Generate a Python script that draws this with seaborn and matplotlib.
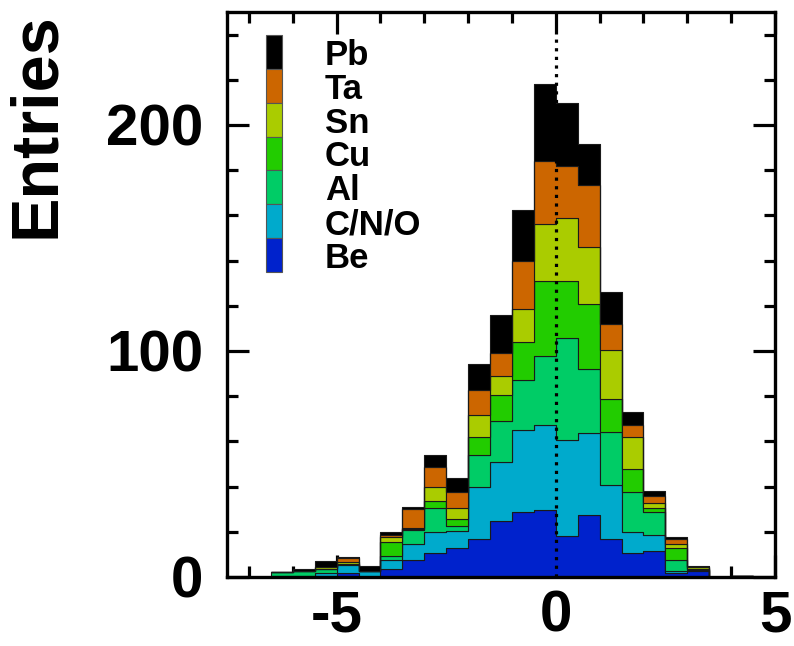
import numpy as np
import pandas as pd
import matplotlib
matplotlib.use("Agg")
import matplotlib.pyplot as plt
from matplotlib.patches import Rectangle
from matplotlib.ticker import MultipleLocator
import seaborn as sns

# ---- data ----
bin_edges = [round(v, 2) for v in np.arange(-6.5, 4.51, 0.5)]
bin_centers = [(a + b) / 2 for a, b in zip(bin_edges[:-1], bin_edges[1:])]

materials = ["Pb", "Ta", "Sn", "Cu", "Al", "C/N/O", "Be"]   # top -> bottom
colors = ["#000000", "#cc6600", "#aacc00", "#22cc00", "#00cc66", "#00aacc", "#0022cc"]

be  = [0, 0.6, 0.6, 1.8, 0, 3.5, 7.5, 10.5, 12.7, 16.8, 24.6, 28.6, 29.6, 18.3, 27.6, 16.8, 10.6, 11.6, 1.8, 2.7, 0, 0.6]
cno = [0.6, 0, 1.2, 3.7, 2.5, 4.0, 7.0, 9.3, 7.8, 22.9, 26.1, 36.4, 37.8, 42.3, 36.1, 23.9, 9.2, 7.0, 1.0, 0.5, 0, 0]
al  = [1.5, 2.2, 1.7, 0.4, 0, 1.9, 6.3, 10.6, 1.9, 14.3, 18.2, 22.2, 30.2, 45.0, 28.3, 23.3, 17.7, 10.0, 4.7, 0.2, 0, 0]
cu  = [0, 0, 0, 0, 0, 5.9, 0.3, 3.1, 3.3, 7.8, 11.8, 16.6, 33.2, 25.2, 28.8, 14.8, 10.3, 1.9, 5.3, 0.2, 0, 0]
sn  = [0, 0, 1.1, 0.6, 0, 2.3, 0.7, 6.2, 4.7, 10.0, 8.1, 15.0, 25.4, 27.9, 25.4, 21.8, 14.0, 2.1, 1.8, 0.7, 0, 0]
ta  = [0, 0, 0, 1.9, 0, 1.0, 8.1, 8.8, 7.3, 11.1, 10.2, 21.0, 28.0, 23.3, 27.1, 11.3, 5.6, 3.1, 2.2, 0, 0, 0]
pb  = [0, 0.8, 2.3, 0.3, 2.5, 1.2, 0.9, 5.6, 6.1, 11.3, 17.1, 22.5, 33.8, 27.7, 18.4, 14.3, 5.5, 2.2, 1.0, 0.4, 0, 0]

x_ticks = [-5, 0, 5]
y_ticks = [0, 100, 200]
y_label = "Entries"
marker_x = 0.0
marker_top = 238

series = {"Pb": pb, "Ta": ta, "Sn": sn, "Cu": cu, "Al": al, "C/N/O": cno, "Be": be}
df = pd.concat(
    [pd.DataFrame({"x": bin_centers, "w": vals, "material": name}) for name, vals in series.items()],
    ignore_index=True,
)

# ---- style ----
sns.set_style("ticks")
plt.rcParams["font.family"] = ["Liberation Sans", "DejaVu Sans"]
plt.rcParams["font.weight"] = "bold"
plt.rcParams["text.color"] = "black"
plt.rcParams["axes.labelcolor"] = "black"
plt.rcParams["xtick.color"] = "black"
plt.rcParams["ytick.color"] = "black"
plt.rcParams["axes.unicode_minus"] = False

fig = plt.figure(figsize=(7.94, 6.46), dpi=100)
ax = fig.add_axes([227 / 794, 1 - 577 / 646, 548 / 794, 565 / 646])

sns.histplot(
    data=df, x="x", weights="w", hue="material", hue_order=materials,
    palette=dict(zip(materials, colors)), multiple="stack", bins=bin_edges,
    element="step", fill=True, alpha=1, edgecolor="#1a1a1a", linewidth=0.8,
    legend=False, ax=ax,
)

ax.axvline(marker_x, ymin=0, ymax=marker_top / 250, color="black",
           linewidth=2.3, linestyle=(0, (1, 1.7)), zorder=5)

ax.set_xlim(-7.5, 5)
ax.set_ylim(0, 250)
ax.set_xticks(x_ticks)
ax.set_yticks(y_ticks)
ax.xaxis.set_minor_locator(MultipleLocator(1))
ax.yaxis.set_minor_locator(MultipleLocator(20))
ax.tick_params(which="both", direction="in", top=True, right=True, width=2.3, color="black")
ax.tick_params(which="major", length=16, labelsize=42, labelcolor="black")
ax.tick_params(which="minor", length=8)
ax.tick_params(axis="x", which="major", pad=9)
ax.tick_params(axis="y", which="major", pad=17)
for lab in ax.get_xticklabels() + ax.get_yticklabels():
    lab.set_fontweight("bold")
for sp in ax.spines.values():
    sp.set_linewidth(2.4)
    sp.set_color("black")

ax.set_xlabel("")
ax.set_ylabel(y_label, loc="top", fontsize=48, fontweight="bold", color="black")
ax.yaxis.set_label_coords(-0.29, 1.0)

# ---- legend (drawn as patches + text in axes coordinates) ----
lx, lw = (266 - 227) / 548, 16 / 548
top = (577 - 35) / 565
h = (272 - 35) / 7 / 565
for i, (name, col) in enumerate(zip(materials, colors)):
    y0 = top - (i + 1) * h
    ax.add_patch(Rectangle((lx, y0), lw, h, transform=ax.transAxes,
                           facecolor=col, edgecolor="#555555", linewidth=0.8, zorder=6))
    ax.text((325 - 227) / 548, y0 + h / 2, name, transform=ax.transAxes, color="black",
            fontsize=25, fontweight="bold", ha="left", va="center_baseline", zorder=6)

fig.savefig("out.png", dpi=100)
